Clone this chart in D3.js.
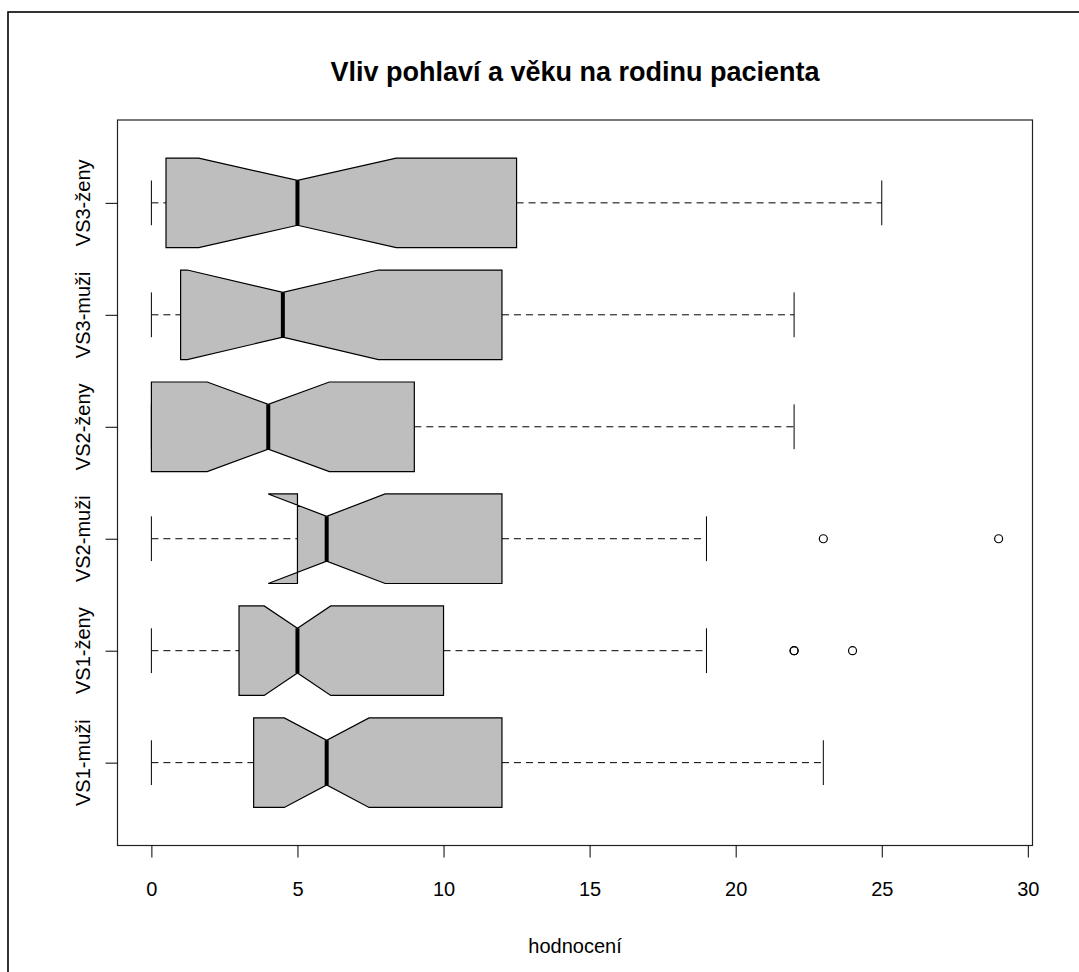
<!DOCTYPE html>
<html>
<head>
    <meta charset='utf-8'>
    <title>Boxplot</title>
    <script src='https://cdn.jsdelivr.net/npm/d3@7'></script>
    <style>
        body { margin: 0; background: #fff; }
        text { font-family: 'Liberation Sans', Arial, sans-serif; }
    </style>
</head>
<body>
    <svg width='1079' height='972'></svg>
    <script>
        // skupiny zdola nahoru
        const groups = ['VS1-muži', 'VS1-ženy', 'VS2-muži', 'VS2-ženy', 'VS3-muži', 'VS3-ženy']
        const whiskerLow = [0, 0, 0, 0, 0, 0]
        const q1 = [3.5, 3, 5, 0, 1, 0.5]
        const medians = [6, 5, 6, 4, 4.5, 5]
        const q3 = [12, 10, 12, 9, 12, 12.5]
        const whiskerHigh = [23, 19, 19, 22, 22, 25]
        const notchLow = [4.55, 3.86, 4, 1.91, 1.23, 1.62]
        const notchHigh = [7.45, 6.14, 8, 6.09, 7.77, 8.38]
        const outliers = [[], [22, 22, 24], [23, 29], [], [], []]
        const xTicks = [0, 5, 10, 15, 20, 25, 30]

        const svg = d3.select('svg')

        // vnejsi ramecek
        svg.append('rect')
            .attr('x', 8).attr('y', 12)
            .attr('width', 1200).attr('height', 1200)
            .attr('fill', 'none').attr('stroke', '#000').attr('stroke-width', 1.6)

        const pLeft = 117.5, pRight = 1032.5, pTop = 120, pBottom = 845.5

        const x = d3.scaleLinear().domain([-1.16, 30.16]).range([pLeft, pRight])
        const y = d3.scaleLinear().domain([0.26, 6.74]).range([pBottom, pTop])
        const hw = y(0) - y(0.4) // polovina vysky krabice

        const data = groups.map((g, i) => ({
            name: g, pos: i + 1,
            lo: whiskerLow[i], q1: q1[i], med: medians[i], q3: q3[i], hi: whiskerHigh[i],
            nl: notchLow[i], nh: notchHigh[i], out: outliers[i]
        }))

        const boxes = svg.append('g').selectAll('g')
            .data(data)
            .enter()
            .append('g')

        // fousy
        boxes.append('line')
            .attr('x1', d => x(d.lo)).attr('x2', d => x(d.q1))
            .attr('y1', d => y(d.pos)).attr('y2', d => y(d.pos))
            .attr('stroke', '#000').attr('stroke-dasharray', '7,5')
        boxes.append('line')
            .attr('x1', d => x(d.q3)).attr('x2', d => x(d.hi))
            .attr('y1', d => y(d.pos)).attr('y2', d => y(d.pos))
            .attr('stroke', '#000').attr('stroke-dasharray', '7,5')
        boxes.selectAll('.staple')
            .data(d => [d.lo, d.hi].map(v => ({ v, pos: d.pos })))
            .enter()
            .append('line')
            .attr('x1', d => x(d.v)).attr('x2', d => x(d.v))
            .attr('y1', d => y(d.pos) - hw / 2).attr('y2', d => y(d.pos) + hw / 2)
            .attr('stroke', '#000')

        // krabice se zarezem
        boxes.append('path')
            .attr('d', d => {
                const c = y(d.pos)
                const pts = [
                    [x(d.q1), c - hw], [x(d.nl), c - hw], [x(d.med), c - hw / 2], [x(d.nh), c - hw], [x(d.q3), c - hw],
                    [x(d.q3), c + hw], [x(d.nh), c + hw], [x(d.med), c + hw / 2], [x(d.nl), c + hw], [x(d.q1), c + hw]
                ]
                return d3.line()(pts) + 'Z'
            })
            .attr('fill', '#bebebe').attr('stroke', '#000').attr('stroke-width', 1.2)

        // median
        boxes.append('line')
            .attr('x1', d => x(d.med)).attr('x2', d => x(d.med))
            .attr('y1', d => y(d.pos) - hw / 2).attr('y2', d => y(d.pos) + hw / 2)
            .attr('stroke', '#000').attr('stroke-width', 4)

        // odlehle hodnoty
        boxes.selectAll('circle')
            .data(d => d.out.map(v => ({ v, pos: d.pos })))
            .enter()
            .append('circle')
            .attr('cx', d => x(d.v)).attr('cy', d => y(d.pos))
            .attr('r', 4).attr('fill', 'none').attr('stroke', '#000').attr('stroke-width', 1.2)

        // ramecek grafu
        svg.append('rect')
            .attr('x', pLeft).attr('y', pTop)
            .attr('width', pRight - pLeft).attr('height', pBottom - pTop)
            .attr('fill', 'none').attr('stroke', '#222').attr('stroke-width', 1.2)

        // osa x
        const xAxis = svg.append('g')
            .attr('transform', `translate(0,${pBottom})`)
            .call(d3.axisBottom(x).tickValues(xTicks).tickSize(12).tickPadding(24).tickFormat(d3.format('d')))
        xAxis.select('.domain').remove()
        xAxis.selectAll('text').attr('font-size', 20).attr('fill', '#000')
            .attr('font-family', "'Liberation Sans', Arial, sans-serif")

        // osa y
        const yAxis = svg.append('g')
            .attr('transform', `translate(${pLeft},0)`)
            .call(d3.axisLeft(y).tickValues(d3.range(1, 7)).tickSize(12).tickFormat(''))
        yAxis.select('.domain').remove()

        svg.append('g').selectAll('text')
            .data(data)
            .enter()
            .append('text')
            .attr('transform', d => `translate(90,${y(d.pos)}) rotate(-90)`)
            .attr('text-anchor', 'middle')
            .attr('font-size', 20)
            .text(d => d.name)

        // popisky
        svg.append('text')
            .attr('x', (pLeft + pRight) / 2).attr('y', 81)
            .attr('text-anchor', 'middle')
            .attr('font-size', 27).attr('font-weight', 'bold')
            .text('Vliv pohlaví a věku na rodinu pacienta')

        svg.append('text')
            .attr('x', (pLeft + pRight) / 2).attr('y', 953)
            .attr('text-anchor', 'middle')
            .attr('font-size', 20)
            .text('hodnocení')
    </script>
</body>
</html>
